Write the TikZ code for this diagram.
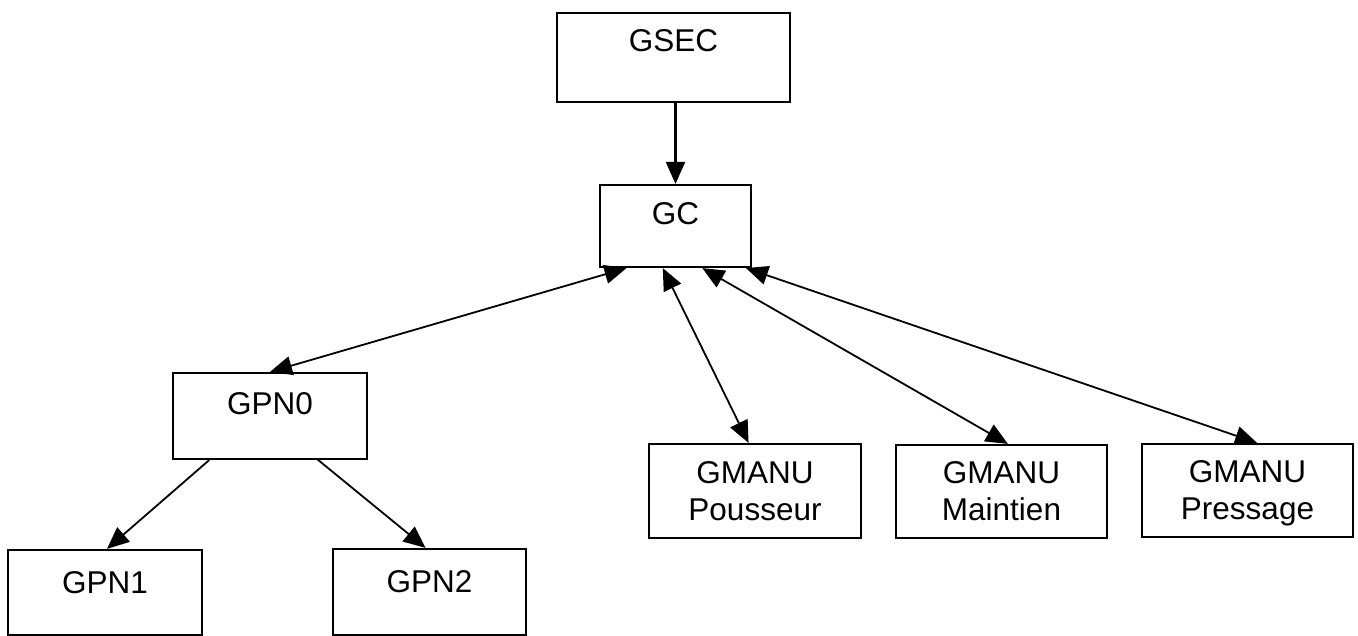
\documentclass[tikz,border=0pt]{standalone}
\usepackage{fontspec}
\setmainfont{Liberation Sans}
\usetikzlibrary{arrows.meta,calc}
\newcommand\boxfont{\fontsize{31.5}{37}\selectfont}
\tikzset{
  boxbase/.style={draw, line width=2.2pt, inner sep=0pt, font=\boxfont},
  onebox/.style={boxbase, text height=22.6pt},
  twobox/.style={boxbase, align=center, text depth=0pt},
  conn/.style={line width=1.8pt, -{Triangle[length=22pt,width=19pt]}},
  dconn/.style={line width=1.8pt, {Triangle[length=22pt,width=19pt]}-{Triangle[length=22pt,width=19pt]}},
}
\begin{document}
\begin{tikzpicture}[x=1pt,y=-1pt]
\useasboundingbox (0,0) rectangle (1358,636);
% boxes
\node[onebox, minimum width=233pt, minimum height=89pt, text depth=35pt] (gsec) at (673.5,57.5) {GSEC};
\node[onebox, minimum width=151pt, minimum height=82pt, text depth=26pt] (gc) at (675.5,226) {GC};
\node[onebox, minimum width=194pt, minimum height=86pt, text depth=26pt] (gpn0) at (270,416) {GPN0};
\node[onebox, minimum width=194pt, minimum height=85pt, text depth=21pt] (gpn1) at (105,592.5) {GPN1};
\node[onebox, minimum width=193pt, minimum height=86pt, text depth=22pt] (gpn2) at (429.5,592) {GPN2};
\node[twobox, minimum width=212pt, minimum height=94pt] (pous) at (755,491) {GMANU\\Pousseur};
\node[twobox, minimum width=211pt, minimum height=93pt] (main) at (1001.5,491.5) {GMANU\\Maintien};
\node[twobox, minimum width=211pt, minimum height=93pt] (pres) at (1247.5,490.5) {GMANU\\Pressage};
% connectors
\draw[conn, line width=2.4pt] (gsec.south -| gc.north) -- (gc.north);
\draw[dconn] ($(gc.south west)!0.18!(gc.south east)$) -- (gpn0.north);
\draw[dconn] ($(gc.south west)!0.417!(gc.south east)$) -- ($(pous.north west)!0.47!(pous.north east)$);
\draw[dconn] ($(gc.south west)!0.675!(gc.south east)$) -- ($(main.north west)!0.53!(main.north east)$);
\draw[dconn] ($(gc.south west)!0.96!(gc.south east)$) -- ($(pres.north west)!0.545!(pres.north east)$);
\draw[conn] ($(gpn0.south west)!0.19!(gpn0.south east)$) -- ($(gpn1.north west)!0.51!(gpn1.north east)$);
\draw[conn] ($(gpn0.south west)!0.74!(gpn0.south east)+(0,-1)$) -- ($(gpn2.north west)!0.48!(gpn2.north east)$);
\end{tikzpicture}
\end{document}
